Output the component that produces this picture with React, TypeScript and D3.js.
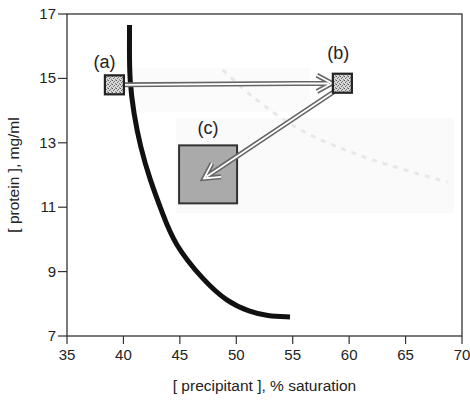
import React from 'react';
import * as d3 from 'd3';

// solubility curve, [precipitant] % vs [protein] mg/ml
const curveX = [40.54, 40.53, 40.55, 40.9, 41.5, 42.35, 43.45, 44.5, 47.05, 49.18, 51.21, 52.72, 54.76];
const curveY = [16.66, 15.88, 14.95, 13.93, 12.87, 11.85, 10.82, 9.85, 8.74, 8.06, 7.75, 7.62, 7.59];

// faint bleed-through dashes from the scan
const ghostX = [48.8, 51.5, 55.4, 59.2, 62.7, 68.7];
const ghostY = [15.26, 14.42, 13.46, 12.84, 12.4, 11.78];

// drop points (a), (b), (c)
const pointLabels = ['(a)', '(b)', '(c)'];
const pointX = [39.2, 59.4, 47.5];
const pointY = [14.8, 14.85, 12.02];

const xTicks = [35, 40, 45, 50, 55, 60, 65, 70];
const yTicks = [7, 9, 11, 13, 15, 17];

const W = 470,
	H = 400,
	margin = { top: 14, right: 8, bottom: 64, left: 67 };

const font = "'Liberation Sans', Arial, Helvetica, sans-serif";

const App = () => {
	const x = d3.scaleLinear().domain([35, 70]).range([margin.left, W - margin.right]);
	const y = d3.scaleLinear().domain([7, 17]).range([H - margin.bottom, margin.top]);

	const line = d3
		.line<number>()
		.x((d, i) => x(curveX[i]))
		.y((d, i) => y(curveY[i]))
		.curve(d3.curveBasis);
	const ghostLine = d3
		.line<number>()
		.x((d, i) => x(ghostX[i]))
		.y((d, i) => y(ghostY[i]))
		.curve(d3.curveCatmullRom);

	const pts = pointX.map((v, i) => ({ label: pointLabels[i], px: x(v), py: y(pointY[i]) }));
	const small = 19,
		big = 58;

	// arrows: a -> b, b -> c (pixel offsets trim to box edges)
	const arrows = [
		{ x1: pts[0].px + small / 2, y1: pts[0].py, x2: pts[1].px - small / 2 - 1, y2: pts[1].py },
		{ x1: pts[1].px - small / 2 + 1, y1: pts[1].py + small / 2 - 1, x2: pts[2].px - 4, y2: pts[2].py + 4 },
	];

	const arrowPath = (a: { x1: number; y1: number; x2: number; y2: number }) => {
		const ang = Math.atan2(a.y2 - a.y1, a.x2 - a.x1),
			len = 17,
			spread = 0.5;
		const p = d3.path();
		p.moveTo(a.x1, a.y1);
		p.lineTo(a.x2 - Math.cos(ang) * 3, a.y2 - Math.sin(ang) * 3);
		p.moveTo(a.x2 - len * Math.cos(ang - spread), a.y2 - len * Math.sin(ang - spread));
		p.lineTo(a.x2, a.y2);
		p.lineTo(a.x2 - len * Math.cos(ang + spread), a.y2 - len * Math.sin(ang + spread));
		return p.toString();
	};

	const x0 = x(35),
		x1 = x(70),
		y0 = y(7),
		y1 = y(17);

	return (
		<svg width={W} height={H} style={{ position: 'absolute', left: 0, top: 0, background: '#fff' }}>
			<defs>
				<pattern id="stip" width="4" height="4" patternUnits="userSpaceOnUse">
					<rect width="4" height="4" fill="#d8d8d8" />
					<rect x="0" y="0" width="1" height="1" fill="#555" />
					<rect x="2" y="1" width="1" height="1" fill="#777" />
					<rect x="1" y="2" width="1" height="1" fill="#666" />
					<rect x="3" y="3" width="1" height="1" fill="#888" />
					<rect x="3" y="0" width="1" height="1" fill="#aaa" />
				</pattern>
			</defs>

			{/* scan bleed-through */}
			<rect x={130} y={68} width={180} height={44} fill="#fbfbfb" />
			<rect x={176} y={118} width={278} height={95} fill="#fafafa" />
			<path d={ghostLine(ghostX) || ''} fill="none" stroke="#e8e8e8" strokeWidth={3} strokeDasharray="5 6" />

			{/* frame */}
			<rect x={x0} y={y1} width={x1 - x0} height={y0 - y1} fill="none" stroke="#333" strokeWidth={1.3} />

			{xTicks.map((t) => (
				<g key={'x' + t}>
					<line x1={x(t)} x2={x(t)} y1={y0} y2={y0 + 8} stroke="#333" strokeWidth={1.2} />
					<text x={x(t)} y={y0 + 24} textAnchor="middle" fontFamily={font} fontSize={15} fill="#222">
						{t}
					</text>
				</g>
			))}
			{yTicks.map((t) => (
				<g key={'y' + t}>
					<line x1={x0 - 9} x2={x0} y1={y(t)} y2={y(t)} stroke="#333" strokeWidth={1.2} />
					<text x={x0 - 11} y={y(t) + 5} textAnchor="end" fontFamily={font} fontSize={15} fill="#222">
						{t}
					</text>
				</g>
			))}

			<text x={(x0 + x1) / 2} y={391} textAnchor="middle" fontFamily={font} fontSize={15.5} fill="#222">
				[ precipitant ], % saturation
			</text>
			<text
				transform={`translate(19 ${(y0 + y1) / 2}) rotate(-90)`}
				textAnchor="middle"
				fontFamily={font}
				fontSize={15.5}
				fill="#222"
			>
				[ protein ], mg/ml
			</text>

			{/* solubility curve */}
			<path d={line(curveX) || ''} fill="none" stroke="#111" strokeWidth={5} />

			{/* box c */}
			<rect x={pts[2].px - big / 2} y={pts[2].py - big / 2} width={big} height={big} fill="#aaa" stroke="#333" strokeWidth={2} />

			{/* arrows: double outline */}
			{arrows.map((a, i) => (
				<g key={'a' + i}>
					<path d={arrowPath(a)} fill="none" stroke="#666" strokeWidth={5} strokeLinejoin="miter" />
					<path d={arrowPath(a)} fill="none" stroke="#fff" strokeWidth={1.8} strokeLinejoin="miter" />
				</g>
			))}

			{/* boxes a, b */}
			{pts.slice(0, 2).map((p) => (
				<rect key={p.label} x={p.px - small / 2} y={p.py - small / 2} width={small} height={small} fill="url(#stip)" stroke="#222" strokeWidth={2.2} />
			))}

			{/* labels */}
			<text x={pts[0].px - 10} y={pts[0].py - 17} textAnchor="middle" fontFamily={font} fontSize={18} fill="#222">
				{pts[0].label}
			</text>
			<text x={pts[1].px - 4} y={pts[1].py - 24} textAnchor="middle" fontFamily={font} fontSize={18} fill="#222">
				{pts[1].label}
			</text>
			<text x={pts[2].px} y={pts[2].py - big / 2 - 11} textAnchor="middle" fontFamily={font} fontSize={18} fill="#222">
				{pts[2].label}
			</text>
		</svg>
	);
};

export default App;
